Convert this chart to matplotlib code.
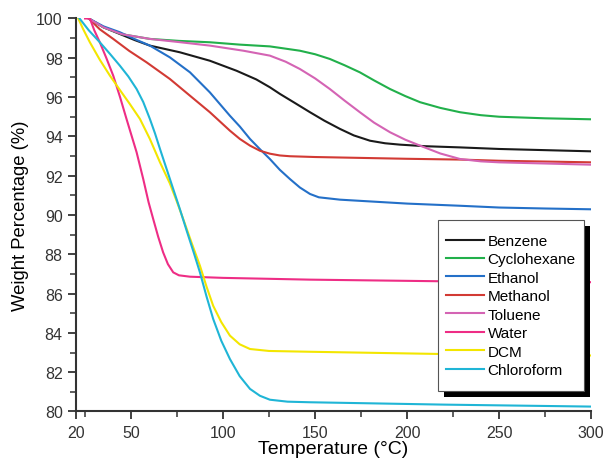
import numpy as np
import matplotlib as mpl
import matplotlib.pyplot as plt
from matplotlib.patches import Rectangle

mpl.rcParams['font.family'] = ['Liberation Sans', 'DejaVu Sans']
mpl.rcParams['font.size'] = 11

# (temperature degC, weight %)
benzene_t = [27, 35, 43.9, 52, 60.2, 76.5, 92.8, 107.3, 118, 125.4, 130.9, 139, 147.2, 155, 163.5,
             171, 179.8, 188, 196.1, 210, 228.7, 250, 275, 300]
benzene_w = [100, 99.55, 99.21, 98.9, 98.62, 98.28, 97.85, 97.34, 96.9, 96.5, 96.16, 95.7, 95.23, 94.8, 94.38,
             94.05, 93.78, 93.65, 93.58, 93.5, 93.44, 93.36, 93.3, 93.24]

cyclo_t = [27, 35, 45, 60.2, 76, 92.8, 109.1, 125.4, 141.7, 150, 158, 166, 174.3, 182, 190.7, 199,
           207, 218, 228.7, 240, 250, 275, 300]
cyclo_w = [100, 99.55, 99.2, 98.96, 98.86, 98.79, 98.67, 98.58, 98.36, 98.18, 97.94, 97.62, 97.26, 96.85, 96.41, 96.05,
           95.74, 95.45, 95.23, 95.08, 95.0, 94.92, 94.87]

ethanol_t = [27, 35, 43.9, 52, 60.2, 71.1, 82, 92.8, 103.7, 109.1, 114.6, 120, 125.4, 130.8, 136.3, 141.7,
             147.2, 152, 163.5, 200, 228.7, 250, 275, 300]
ethanol_w = [100, 99.6, 99.3, 98.95, 98.62, 98.02, 97.26, 96.24, 95.05, 94.5, 93.87, 93.35, 92.85, 92.3, 91.83, 91.4,
             91.07, 90.9, 90.78, 90.58, 90.47, 90.38, 90.33, 90.29]

methanol_t = [27, 33, 40.3, 49, 58.4, 71.1, 82, 92.8, 103.7, 109.1, 114.6, 120, 125.4, 130.8, 136.3,
              150, 200, 228.7, 250, 300]
methanol_w = [100, 99.45, 98.96, 98.35, 97.77, 96.92, 96.07, 95.23, 94.29, 93.87, 93.53, 93.27, 93.12, 93.03, 92.99,
              92.95, 92.86, 92.82, 92.76, 92.68]

toluene_t = [27, 35, 45, 60.2, 76, 92.8, 111, 125.4, 134, 141.7, 150, 158, 166, 174.3, 182, 190.7,
             199, 207, 218, 228.7, 240, 250, 275, 300]
toluene_w = [100, 99.55, 99.2, 98.96, 98.8, 98.62, 98.36, 98.11, 97.8, 97.43, 96.95, 96.41, 95.82, 95.23, 94.7, 94.21,
             93.83, 93.53, 93.13, 92.85, 92.73, 92.68, 92.62, 92.56]

water_t = [25, 27.6, 30, 33, 36.5, 40.3, 44, 47.5, 53, 56.6, 59.5, 62, 64.7, 67.4, 70, 72.9, 76, 82,
           100, 147.2, 216, 300]
water_w = [100, 100, 99.4, 98.79, 98.0, 97.09, 96.0, 94.89, 93.19, 91.83, 90.65, 89.8, 88.9, 88.1, 87.5, 87.08, 86.93, 86.86,
           86.8, 86.71, 86.63, 86.58]

dcm_t = [21.3, 24, 27.6, 33, 38.5, 44, 49.3, 54.8, 60.2, 65.7, 71.1, 74.8, 78.3, 83, 87.4, 91, 94.6, 99,
         103.7, 109, 114.6, 125, 147.2, 216, 300]
dcm_w = [100, 99.45, 98.79, 97.9, 97.09, 96.35, 95.65, 94.89, 93.87, 92.68, 91.6, 90.7, 89.8, 88.55, 87.42, 86.35, 85.38, 84.55,
         83.86, 83.42, 83.18, 83.08, 83.04, 82.93, 82.85]

chloro_t = [22, 27, 33, 38.5, 43.9, 48.5, 53, 56.6, 60.2, 63, 65.7, 71.1, 76.5, 80.2, 84, 87.4, 91, 94.6,
            99, 103.7, 109, 114.6, 120, 125.4, 135, 147.2, 220, 300]
chloro_w = [100, 99.4, 98.79, 98.2, 97.6, 97.05, 96.41, 95.75, 94.89, 94.15, 93.36, 91.83, 90.3, 89.2, 88.1, 87.08, 85.85, 84.71,
            83.6, 82.67, 81.8, 81.15, 80.8, 80.6, 80.5, 80.47, 80.35, 80.25]

labels = ['Benzene', 'Cyclohexane', 'Ethanol', 'Methanol', 'Toluene', 'Water', 'DCM', 'Chloroform']
colors = ['#1a1a1a', '#22b04b', '#2470c8', '#d23a34', '#d464b4', '#ee2d85', '#f3e600', '#1fb5d6']
series = [(benzene_t, benzene_w), (cyclo_t, cyclo_w), (ethanol_t, ethanol_w),
          (methanol_t, methanol_w), (toluene_t, toluene_w), (water_t, water_w),
          (dcm_t, dcm_w), (chloro_t, chloro_w)]

W, H = 607, 464
fig = plt.figure(figsize=(W / 100, H / 100), dpi=100)
ax = fig.add_axes([0.125, 0.111, 0.849, 0.847])

for (t, w), lab, c in zip(series, labels, colors):
    ax.plot(t, w, color=c, lw=1.5, label=lab, solid_joinstyle='round')

ax.set_xlim(20, 300)
ax.set_ylim(80, 100)
ax.set_xticks([20, 50, 100, 150, 200, 250, 300])
ax.set_xticks([25, 75, 125, 175, 225, 275], minor=True)
ax.set_yticks(np.arange(80, 101, 2))
ax.set_yticks(np.arange(81, 100, 2), minor=True)
for s in ['top', 'right']:
    ax.spines[s].set_visible(False)
for s in ['left', 'bottom']:
    ax.spines[s].set_linewidth(1.5)
    ax.spines[s].set_color('#333333')
ax.tick_params(which='major', direction='out', length=6, width=1.3, colors='#333333', labelsize=11.5)
ax.tick_params(which='minor', direction='out', length=4, width=1.1, colors='#333333')
ax.tick_params(axis='x', pad=4)
ax.set_xlabel('Temperature (°C)', fontsize=14, labelpad=0)
ax.set_ylabel('Weight Percentage (%)', fontsize=13.3, labelpad=5)

leg = ax.legend(loc='upper left', bbox_to_anchor=(0.703, 0.472), fontsize=11,
                frameon=False, handlelength=2.45, handletextpad=0.26, labelspacing=0.29,
                borderpad=0.52, borderaxespad=0)
leg.set_zorder(5)

# boxed frame with a solid drop shadow, taller than the legend's own padding
fig.canvas.draw()
bb = leg.get_window_extent().transformed(fig.transFigure.inverted())
ext = 6 / H
x0, y0, bw, bh = bb.x0, bb.y0 - ext, bb.width, bb.height + 2 * ext
shadow = Rectangle((x0 + 6 / W, y0 - 6 / H), bw, bh, transform=fig.transFigure,
                   facecolor='black', edgecolor='none', zorder=4.5, clip_on=False)
frame = Rectangle((x0, y0), bw, bh, transform=fig.transFigure,
                  facecolor='white', edgecolor='#555555', lw=0.8, zorder=4.8, clip_on=False)
ax.add_artist(shadow)
ax.add_artist(frame)

fig.savefig('out.png', dpi=100)
